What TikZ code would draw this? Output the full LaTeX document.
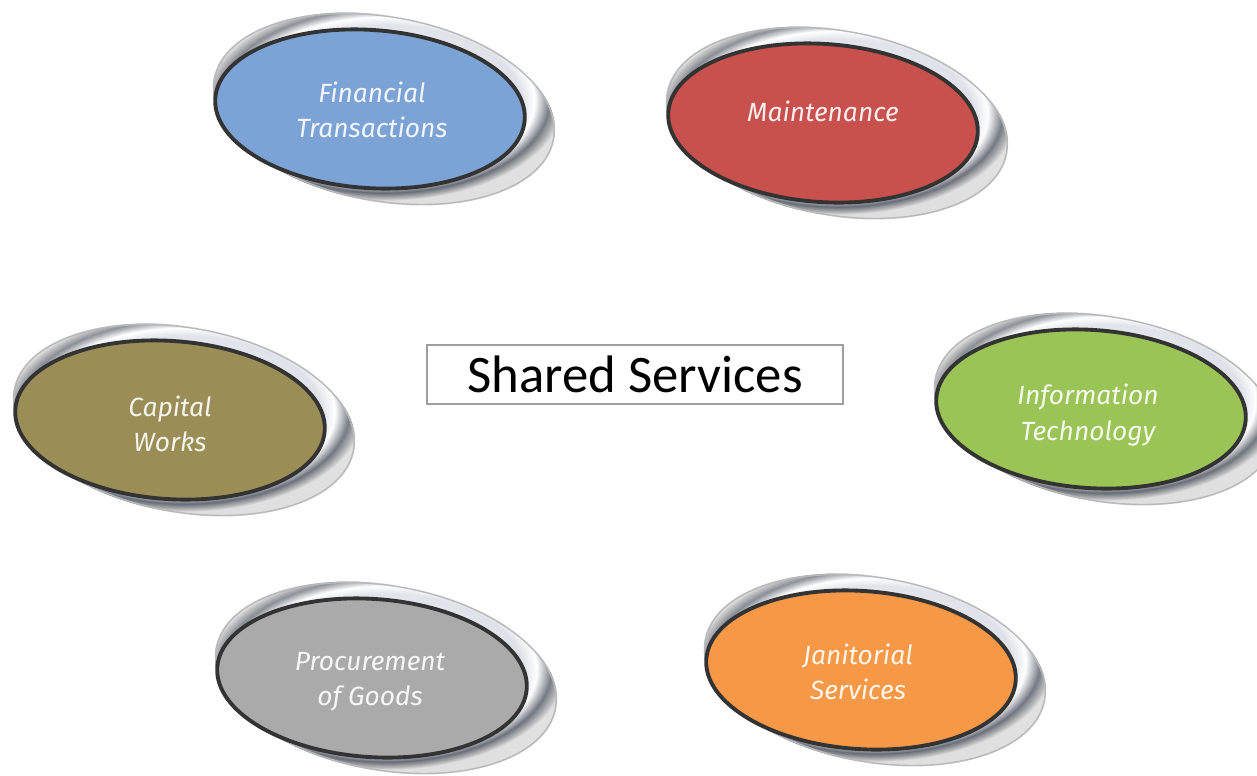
\documentclass[tikz,border=0pt]{standalone}
\usepackage{fontspec}
\setmainfont{Carlito}
\newfontfamily\bubblefont{Fira Sans}
\usetikzlibrary{fadings}
\definecolor{finblue}{RGB}{124,163,214}
\definecolor{mainred}{RGB}{200,80,77}
\definecolor{capolive}{RGB}{154,141,86}
\definecolor{itgreen}{RGB}{155,196,86}
\definecolor{procgray}{RGB}{170,170,170}
\definecolor{janorange}{RGB}{247,152,70}
\definecolor{rimgray}{RGB}{100,106,116}
\definecolor{rimlight}{RGB}{214,218,226}
\pgfdeclareradialshading{ringshade}{\pgfpoint{0bp}{0bp}}{color(0bp)=(white); color(19bp)=(rimlight); color(21bp)=(white); color(23bp)=(rimgray); color(24.3bp)=(gray!60); color(25bp)=(gray!25); color(50bp)=(gray!25)}
\tikzset{
  ringfill/.style={shading=ringshade},
  ringgloss/.style={fill=white, path fading=south, fill opacity=0.3},
  ringline/.style={draw=gray!55, line width=0.4pt},
  innerfill/.style={fill=#1},
  inneredge/.style={draw=black!80, line width=1.1pt},
  bubbletext/.style={text=white!90!#1, align=center, inner sep=0pt,
    font=\bubblefont\itshape\fontsize{7.5}{10}\selectfont},
  titlebox/.style={draw=gray!75, line width=0.6pt, minimum width=4.16cm,
    minimum height=0.59cm, inner sep=0pt, font=\fontsize{15}{17}\selectfont}
}
% #1 name, #2 cx, #3 cy, #4 colour, #5 tx, #6 ty, #7 text
\newcommand\bubble[7]{%
  \begin{scope}[shift={(#2,#3)}]
    \begin{scope}[shift={(14,0)}, rotate=-10]
      \shade[ringfill] (0,0) ellipse [x radius=1.73cm, y radius=0.93cm];
      \fill[ringgloss] (0,0) ellipse [x radius=1.73cm, y radius=0.93cm];
      \draw[ringline] (0,0) ellipse [x radius=1.72cm, y radius=0.92cm];
    \end{scope}
    \begin{scope}[rotate=-4]
      \fill[innerfill=#4] (0,0) ellipse [x radius=1.55cm, y radius=0.79cm];
      \draw[inneredge] (0,0) ellipse [x radius=1.55cm, y radius=0.79cm];
    \end{scope}
  \end{scope}
  \node[bubbletext=#4] (#1) at (#5,#6) {#7};
}
\begin{document}
\begin{tikzpicture}[x=0.01cm, y=-0.01cm]
  \useasboundingbox (0,0) rectangle (1257,775);
  \clip (0,0) rectangle (1257,775);
  \fill[white] (0,0) rectangle (1257,775);
  \bubble{fin}{370}{109}{finblue}{372}{110}{Financial\\Transactions}
  \bubble{mnt}{823}{123}{mainred}{823}{111}{Maintenance}
  \bubble{cap}{170}{420}{capolive}{170}{424}{Capital\\Works}
  \bubble{it}{1091}{409}{itgreen}{1088}{415}{Information\\Technology}
  \bubble{proc}{372}{678}{procgray}{370}{682}{Procurement\\of Goods}
  \bubble{jan}{861}{670}{janorange}{858}{672}{Janitorial\\Services}
  \node[titlebox] (shared) at (635,374.5) {Shared Services};
\end{tikzpicture}
\end{document}
